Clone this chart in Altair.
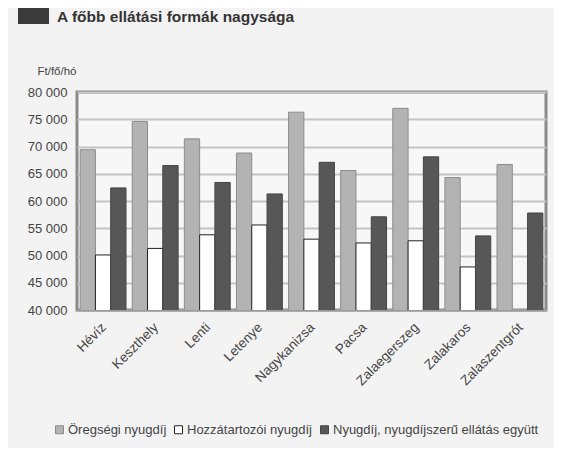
import altair as alt
import pandas as pd

categories = ["Hévíz", "Keszthely", "Lenti", "Letenye", "Nagykanizsa", "Pacsa",
              "Zalaegerszeg", "Zalakaros", "Zalaszentgrót"]
series = ["Öregségi nyugdíj", "Hozzátartozói nyugdíj", "Nyugdíj, nyugdíjszerű ellátás együtt"]
oregsegi = [69400, 74600, 71400, 68800, 76300, 65600, 77000, 64300, 66700]
hozzatartozoi = [50100, 51300, 53800, 55600, 53000, 52300, 52700, 47900, None]
egyutt = [62400, 66500, 63400, 61300, 67100, 57100, 68100, 53600, 57800]
y_ticks = [40000, 45000, 50000, 55000, 60000, 65000, 70000, 75000, 80000]
title_text = "A főbb ellátási formák nagysága"
y_title = "Ft/fő/hó"

rows = []
for s, vals in zip(series, [oregsegi, hozzatartozoi, egyutt]):
    for c, v in zip(categories, vals):
        if v is not None:
            rows.append({"telepules": c, "sorozat": s, "ertek": v})
df = pd.DataFrame(rows)

FONT = "Liberation Sans"

legend_cfg = dict(title=None, orient="none", direction="horizontal",
                  legendX=-24, legendY=331, symbolType="square",
                  symbolSize=64, labelFont=FONT, labelFontSize=13,
                  labelColor="#444", columnPadding=5, labelOffset=2,
                  labelLimit=400, symbolStrokeWidth=1)

bars = alt.Chart(df).mark_bar(clip=True, strokeWidth=1).encode(
    x=alt.X("telepules:N", sort=categories, title=None,
            scale=alt.Scale(paddingInner=0.12, paddingOuter=0.06),
            axis=alt.Axis(labelAngle=-45, labelFontSize=13.5, labelColor="#444",
                          labelFont=FONT, ticks=False, domainColor="#999",
                          domainWidth=2, labelPadding=10, labelOffset=-4)),
    xOffset=alt.XOffset("sorozat:N", sort=series, scale=alt.Scale(domain=series)),
    y=alt.Y("ertek:Q", title=y_title,
            scale=alt.Scale(domain=[40000, 80000], nice=False, zero=False),
            axis=alt.Axis(values=y_ticks, labelExpr="replace(format(datum.value, ','), ',', ' ')",
                          labelFontSize=13, labelColor="#444", labelFont=FONT,
                          ticks=False, domain=False, gridColor="#c4c4c4", gridWidth=2,
                          labelPadding=10, titleAngle=0, titleAlign="left",
                          titleBaseline="alphabetic", titleX=-40, titleY=-18,
                          titleFont=FONT, titleFontSize=11.5, titleFontWeight="normal",
                          titleColor="#444")),
    color=alt.Color("sorozat:N", sort=series,
                    scale=alt.Scale(domain=series, range=["#b3b3b3", "#ffffff", "#575757"]),
                    legend=alt.Legend(**legend_cfg)),
    stroke=alt.Stroke("sorozat:N", sort=series,
                      scale=alt.Scale(domain=series, range=["#8c8c8c", "#222222", "#444444"]),
                      legend=alt.Legend(**legend_cfg)),
)

title_df = pd.DataFrame({"t": [title_text]})
title_mark = alt.Chart(title_df).mark_text(
    align="left", baseline="alphabetic", font=FONT, fontSize=15.5, fontWeight="bold",
    color="#333"
).encode(text="t:N", x=alt.value(-20), y=alt.value(-70))

square = alt.Chart(title_df).mark_rect(color="#3a3a3a").encode(
    x=alt.value(-59), x2=alt.value(-28), y=alt.value(-84), y2=alt.value(-68)
)

chart = alt.layer(bars, title_mark, square).properties(
    width=469, height=218,
    autosize=alt.AutoSizeParams(type="none"),
    padding={"left": 69, "top": 84, "right": 8, "bottom": 138},
    background="#f3f3f3",
).configure_view(
    stroke="#8a8a8a", strokeWidth=3, fill="#f7f7f7"
)

chart.save("out.html", embed_options={"renderer": "svg", "actions": False})
